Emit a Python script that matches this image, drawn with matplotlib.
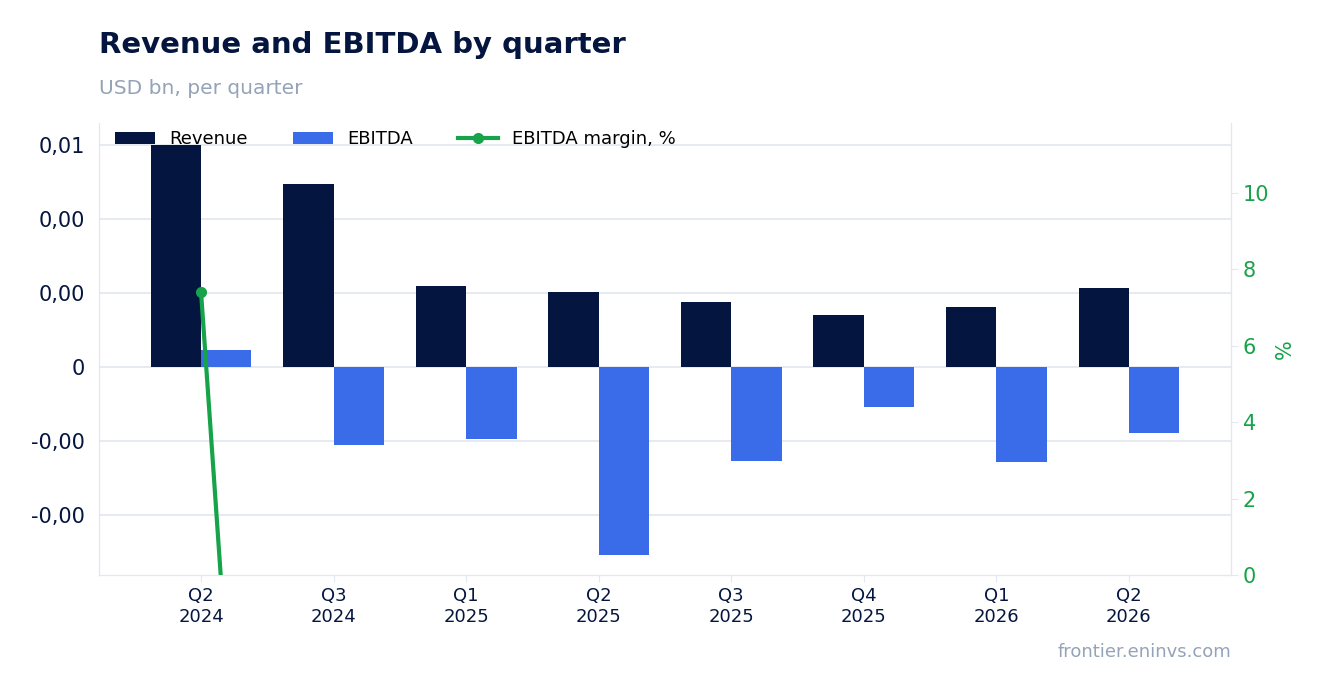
import matplotlib
matplotlib.use("Agg")
import matplotlib.pyplot as plt
import numpy as np
from matplotlib.ticker import FuncFormatter

quarters = ["Q2\n2024","Q3\n2024","Q1\n2025","Q2\n2025","Q3\n2025","Q4\n2025","Q1\n2026","Q2\n2026"]
revenue = [0.0060,0.00495,0.00219,0.00203,0.00176,0.00141,0.00162,0.00214]
ebitda = [0.00046,-0.00211,-0.00195,-0.00508,-0.00254,-0.00108,-0.00257,-0.00178]
margin = [7.4,-42.6,-89.0,-250.0,-144.3,-76.6,-158.6,-83.2]

navy="#04163f"; blue="#3a6be8"; green="#16a34a"; grid="#e2e8f0"
fig = plt.figure(figsize=(13.3,6.93), dpi=100)
ax = fig.add_axes([99/1330, 1-575/693, 1132/1330, 452/693])
x = np.arange(len(quarters))
w = 0.38
ax.bar(x-w/2, revenue, w, color=navy, label="Revenue", zorder=2)
ax.bar(x+w/2, ebitda, w, color=blue, label="EBITDA", zorder=2)
ax.set_xlim(-0.77, 7.77)
ax.set_ylim(-0.00562, 0.0066)
ax.set_yticks([-0.004,-0.002,0,0.002,0.004,0.006])
ax.yaxis.set_major_formatter(FuncFormatter(lambda v,p: "0" if abs(v)<1e-12 else f"{v:.2f}".replace(".",",")))
ax.grid(axis="y", color=grid, lw=1.2, zorder=0)
ax.set_xticks(x); ax.set_xticklabels(quarters, fontsize=13, color=navy)
ax.tick_params(axis="y", labelsize=15, colors=navy, length=0, pad=10)
ax.tick_params(axis="x", length=5, color=grid)
for s in ["top"]: ax.spines[s].set_visible(False)
for s in ["left","bottom","right"]: ax.spines[s].set_color(grid)
ax2 = ax.twinx()
ax2.plot(x, margin, color=green, lw=3, marker="o", markersize=7, label="EBITDA margin, %", zorder=3)
ax2.set_ylim(0, 11.83)
ax2.set_yticks([0,2,4,6,8,10])
ax2.tick_params(axis="y", labelsize=15, colors=green, length=5, color=grid)
ax2.set_ylabel("%", color=green, fontsize=15)
ax2.spines["top"].set_visible(False)
for s in ["left","bottom","right"]: ax2.spines[s].set_color(grid)
h1,l1 = ax.get_legend_handles_labels(); h2,l2 = ax2.get_legend_handles_labels()
ax2.legend(h1+h2, l1+l2, loc="upper left", bbox_to_anchor=(0.0,1.02), ncol=3, frameon=False, fontsize=13, handlelength=2.2, columnspacing=2.5)
fig.text(99/1330, 1-45/693, "Revenue and EBITDA by quarter", fontsize=21, fontweight="bold", color=navy, va="center")
fig.text(99/1330, 1-88/693, "USD bn, per quarter", fontsize=14.5, color="#94a3b8", va="center")
fig.text(1231/1330, 1-652/693, "frontier.eninvs.com", fontsize=13, color="#94a3b8", ha="right", va="center")
fig.savefig("out.png", dpi=100, facecolor="white")
